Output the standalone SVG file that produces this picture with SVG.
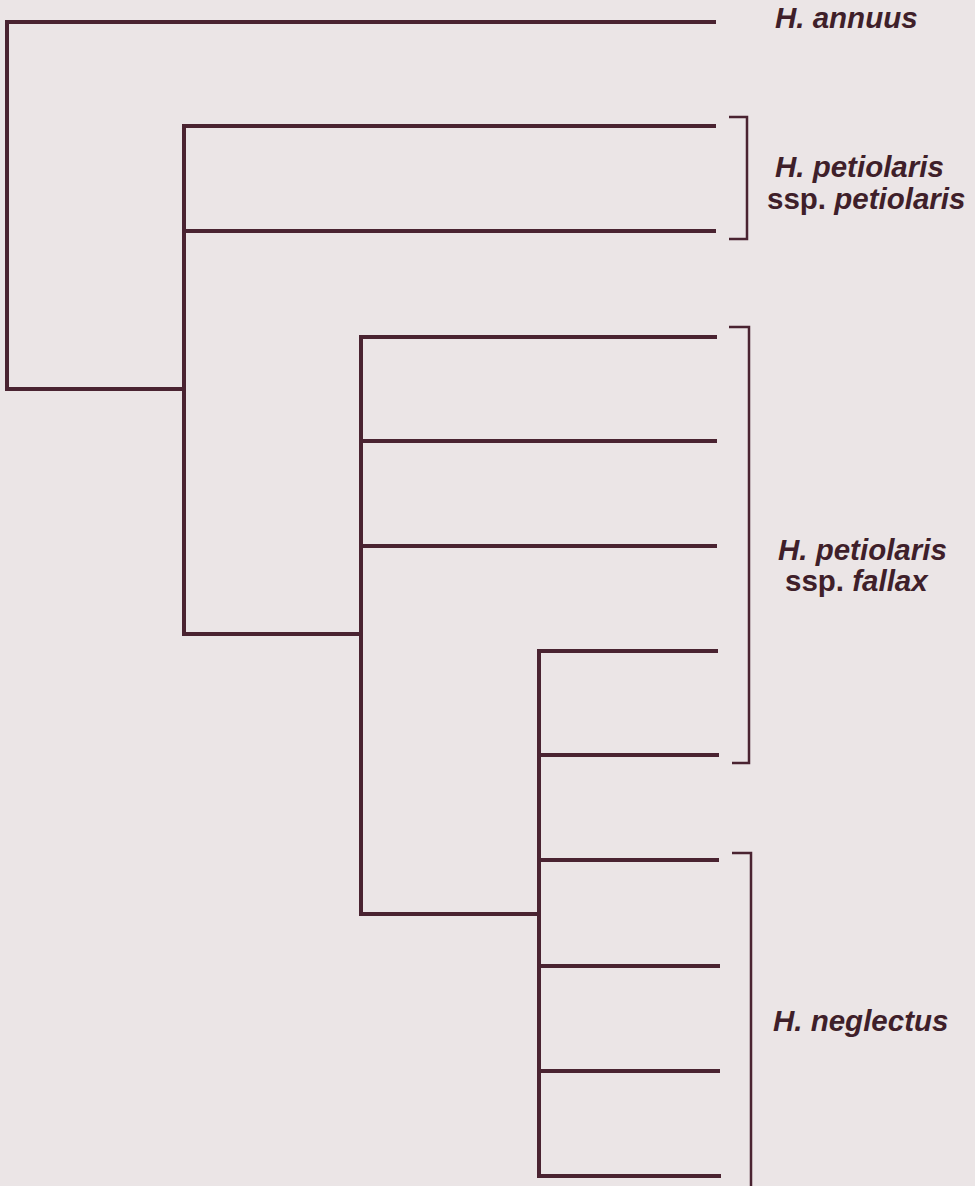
<svg xmlns="http://www.w3.org/2000/svg" width="975" height="1186" viewBox="0 0 975 1186">
<style>
.br{fill:none;stroke:#4a2331;stroke-width:4;stroke-linecap:square;stroke-linejoin:miter}
.bk{fill:none;stroke:#4a2331;stroke-width:2.5}
.lb{font-family:"Liberation Sans",Arial,sans-serif;font-weight:bold;font-style:italic;font-size:29.5px;fill:#3f1f2a}
.up{font-style:normal}
</style>
<rect width="975" height="1186" fill="#ebe5e6"/>
<g id="connectors">
<path class="br" d="M714,22 H7 V389 H184"/>
<path class="br" d="M714,126 H184 V634 H361"/>
<path class="br" d="M714,231 H184"/>
<path class="br" d="M715,337 H361 V914 H539"/>
<path class="br" d="M715,441 H361"/>
<path class="br" d="M715,546 H361"/>
<path class="br" d="M716,651 H539 V1176 H719"/>
<path class="br" d="M717,755 H539"/>
<path class="br" d="M717,860 H539"/>
<path class="br" d="M718,966 H539"/>
<path class="br" d="M718,1071 H539"/>
</g>
<g id="annuus"><text class="lb" x="775" y="28">H. annuus</text></g>
<g id="petiolaris">
<path class="bk" d="M729,117 H747 V239 H729"/>
<text class="lb" x="775" y="177">H. petiolaris</text>
<text class="lb" x="767" y="209"><tspan class="up">ssp.</tspan> petiolaris</text>
</g>
<g id="fallax">
<path class="bk" d="M729,327 H749 V763 H732"/>
<text class="lb" x="778" y="560">H. petiolaris</text>
<text class="lb" x="785" y="591"><tspan class="up">ssp.</tspan> fallax</text>
</g>
<g id="neglectus">
<path class="bk" d="M732,853 H751 V1186"/>
<text class="lb" x="773" y="1031">H. neglectus</text>
</g>
</svg>
